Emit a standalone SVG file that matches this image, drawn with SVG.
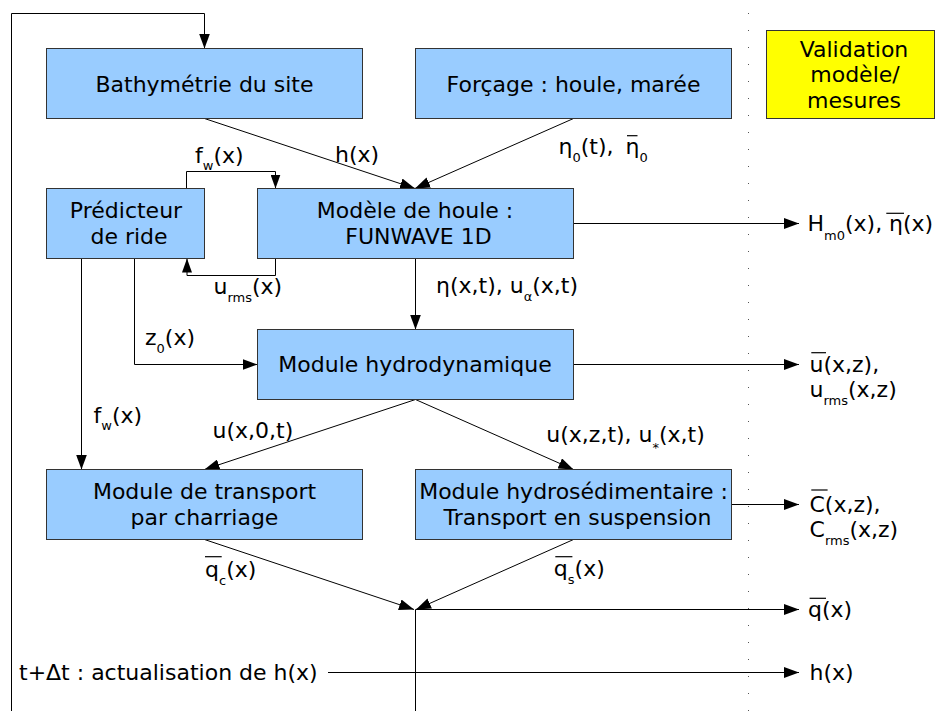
<svg xmlns="http://www.w3.org/2000/svg" width="935" height="711" viewBox="0 0 935 711">
<defs>
<marker id="ah" markerUnits="userSpaceOnUse" markerWidth="15" markerHeight="11" refX="15" refY="5.5" orient="auto">
<path d="M0,0 L15,5.5 L0,11 z" fill="#000"/>
</marker>
<marker id="as" markerUnits="userSpaceOnUse" markerWidth="14" markerHeight="10" refX="14" refY="5" orient="auto">
<path d="M0,0 L14,5 L0,10 z" fill="#000"/>
</marker>
<style>
text{font-family:"DejaVu Sans","Liberation Sans",sans-serif;font-size:22px;fill:#000}
.c{text-anchor:middle}
.s{font-size:13px}
.box{fill:#99ccff;stroke:#333;stroke-width:1}
.val{fill:#ffff00;stroke:#333;stroke-width:1}
.cn path{fill:none;stroke:#000;stroke-width:1}
.ar{marker-end:url(#ah)}
.sm{marker-end:url(#as)}
.ov{stroke:#000;stroke-width:1.2}
.dot{fill:none;stroke:#555;stroke-width:1;stroke-dasharray:1 16}
</style>
</defs>
<rect width="935" height="711" fill="#fff"/>

<path class="dot" d="M748.5,13 V711"/>

<g class="cn">
<path class="ar" d="M11.5,711 V13.5 H204.5 V48.5"/>
<path class="ar" d="M204.5,118.5 L415,188.5"/>
<path class="ar" d="M573.5,118.5 L415,188.5"/>
<path class="sm" d="M186.5,188.5 V171.5 H275.5 V188.5"/>
<path class="sm" d="M275.5,258.5 V275.5 H187 V258.5"/>
<path class="ar" d="M81.5,258.5 V469.5"/>
<path class="ar" d="M134.5,258.5 V364.5 H257.5"/>
<path class="ar" d="M415.5,258.5 V329.5"/>
<path class="ar" d="M573.5,223.5 H799"/>
<path class="ar" d="M573.5,364.5 H799"/>
<path class="ar" d="M415.5,399.5 L204.5,469.5"/>
<path class="ar" d="M415.5,399.5 L573.5,469.5"/>
<path class="ar" d="M731.5,504.5 H799"/>
<path class="ar" d="M204.5,539.5 L414,609.5"/>
<path class="ar" d="M573.5,539.5 L416,609.5"/>
<path class="ar" d="M415.5,609.5 H799"/>
<path d="M415.5,609.5 V711"/>
<path class="ar" d="M328,672.5 H799"/>
</g>

<g id="bathymetrie">
<rect class="box" x="46.5" y="48.5" width="316" height="70"/>
<text class="c" x="204.5" y="91.7">Bathymétrie du site</text>
</g>
<g id="forcage">
<rect class="box" x="415.5" y="48.5" width="316" height="70"/>
<text class="c" x="573.5" y="91.7">Forçage : houle, marée</text>
</g>
<g id="validation">
<rect class="val" x="766.5" y="30.5" width="168" height="88"/>
<text class="c" x="854" y="56.5">Validation</text>
<text class="c" x="855" y="82.3">modèle/</text>
<text class="c" x="854" y="108">mesures</text>
</g>
<g id="predicteur">
<rect class="box" x="46.5" y="188.5" width="158" height="70"/>
<text class="c" x="126" y="218.3">Prédicteur</text>
<text class="c" x="129" y="244.3">de ride</text>
</g>
<g id="modele-houle">
<rect class="box" x="257.5" y="188.5" width="316" height="70"/>
<text class="c" x="415" y="218.3">Modèle de houle :</text>
<text class="c" x="418.5" y="244.3">FUNWAVE 1D</text>
</g>
<g id="module-hydrodynamique">
<rect class="box" x="257.5" y="329.5" width="316" height="70"/>
<text class="c" x="415" y="371.7">Module hydrodynamique</text>
</g>
<g id="module-transport">
<rect class="box" x="46.5" y="469.5" width="316" height="70"/>
<text class="c" x="204.5" y="499">Module de transport</text>
<text class="c" x="204.5" y="525">par charriage</text>
</g>
<g id="module-hydrosedimentaire">
<rect class="box" x="415.5" y="469.5" width="316" height="70"/>
<text class="c" x="573.5" y="499">Module hydrosédimentaire :</text>
<text class="c" x="577.5" y="525">Transport en suspension</text>
</g>

<g id="labels">
<text x="195" y="163">f<tspan class="s" dy="7">w</tspan><tspan dy="-7">(x)</tspan></text>
<text x="335" y="161.7">h(x)</text>
<text x="558.5" y="154">η<tspan class="s" dy="8">0</tspan><tspan dy="-8">(t), </tspan><tspan x="625.5">η</tspan><tspan class="s" dy="8">0</tspan></text>
<line class="ov" x1="627" y1="135.7" x2="637.5" y2="135.7"/>
<text x="807.5" y="230.5">H<tspan class="s" dy="9">m0</tspan><tspan dy="-9">(x), </tspan><tspan x="889">η</tspan>(x)</text>
<line class="ov" x1="886.3" y1="213.3" x2="904" y2="213.3"/>
<text x="436" y="293">η(x,t), u<tspan class="s" dy="8">α</tspan><tspan dy="-8">(x,t)</tspan></text>
<text x="213.5" y="294">u<tspan class="s" dy="8">rms</tspan><tspan dy="-8">(x)</tspan></text>
<text x="145" y="345">z<tspan class="s" dy="8">0</tspan><tspan dy="-8">(x)</tspan></text>
<text x="93.5" y="423.3">f<tspan class="s" dy="7">w</tspan><tspan dy="-7">(x)</tspan></text>
<text x="212.5" y="438.3">u(x,0,t)</text>
<text x="546.3" y="441.7">u(x,z,t), u<tspan class="s" dy="10">*</tspan><tspan dy="-10">(x,t)</tspan></text>
<text x="809.5" y="371.7">u(x,z),</text>
<line class="ov" x1="811.3" y1="352.7" x2="826" y2="352.7"/>
<text x="809.5" y="397.3">u<tspan class="s" dy="8">rms</tspan><tspan dy="-8">(x,z)</tspan></text>
<text x="809.5" y="511.7">C(x,z),</text>
<line class="ov" x1="811.3" y1="490" x2="827.6" y2="490"/>
<text x="809.5" y="537">C<tspan class="s" dy="8">rms</tspan><tspan dy="-8">(x,z)</tspan></text>
<text x="205" y="577">q<tspan class="s" dy="8">c</tspan><tspan dy="-8">(x)</tspan></text>
<line class="ov" x1="205" y1="556.7" x2="221.7" y2="556.7"/>
<text x="553.8" y="576">q<tspan class="s" dy="8">s</tspan><tspan dy="-8">(x)</tspan></text>
<line class="ov" x1="555.3" y1="556.7" x2="572.4" y2="556.7"/>
<text x="808" y="616.7">q(x)</text>
<line class="ov" x1="809.6" y1="598.3" x2="826" y2="598.3"/>
<text x="809.5" y="680">h(x)</text>
<text x="19" y="680">t+Δt : actualisation de h(x)</text>
</g>
</svg>
